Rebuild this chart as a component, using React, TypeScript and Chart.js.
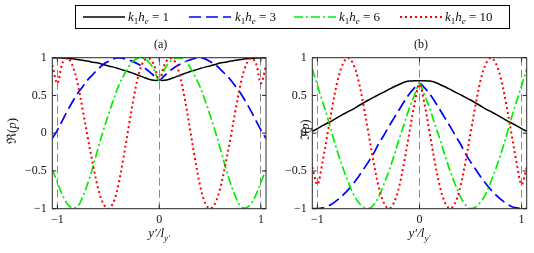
import React, { useEffect, useRef } from 'react';
import { Chart, registerables } from 'chart.js';

Chart.register(...registerables);

const FONT = '"Liberation Serif", "Times New Roman", Times, serif';

// positions along y'/l_y'
const X_POS = [-1.05, -1, -0.95, -0.9, -0.85, -0.8, -0.75, -0.7, -0.65, -0.6, -0.55, -0.5, -0.45, -0.4, -0.35, -0.3, -0.25, -0.2, -0.15, -0.1, -0.05, 0, 0.05, 0.1, 0.15, 0.2, 0.25, 0.3, 0.35, 0.4, 0.45, 0.5, 0.55, 0.6, 0.65, 0.7, 0.75, 0.8, 0.85, 0.9, 0.95, 1, 1.05];
const X_TICKS = [-1, 0, 1];
const Y_TICKS = [-1, -0.5, 0, 0.5, 1];
const KH_VALUES = ['1', '3', '6', '10'];

// (a) real part
const RE_KH1 = [1.0, 1.0, 0.995, 0.99, 0.985, 0.975, 0.965, 0.955, 0.94, 0.93, 0.91, 0.89, 0.875, 0.855, 0.835, 0.815, 0.79, 0.765, 0.74, 0.715, 0.70, 0.70, 0.70, 0.715, 0.74, 0.765, 0.79, 0.815, 0.835, 0.855, 0.875, 0.89, 0.91, 0.93, 0.94, 0.955, 0.965, 0.975, 0.985, 0.99, 0.995, 1.0, 1.0];
const RE_KH3 = [-0.07, 0.04, 0.17, 0.30, 0.42, 0.53, 0.62, 0.71, 0.78, 0.85, 0.91, 0.95, 0.985, 1.0, 0.99, 0.97, 0.945, 0.91, 0.87, 0.82, 0.76, 0.70, 0.76, 0.82, 0.87, 0.91, 0.945, 0.97, 0.99, 1.0, 0.985, 0.95, 0.91, 0.85, 0.78, 0.71, 0.62, 0.53, 0.42, 0.30, 0.17, 0.04, -0.07];
const RE_KH6 = [-0.48, -0.65, -0.82, -0.94, -0.99, -0.97, -0.84, -0.66, -0.44, -0.20, 0.03, 0.24, 0.44, 0.62, 0.76, 0.88, 0.96, 1.0, 0.99, 0.94, 0.84, 0.70, 0.84, 0.94, 0.99, 1.0, 0.96, 0.88, 0.76, 0.62, 0.44, 0.24, 0.03, -0.20, -0.44, -0.66, -0.84, -0.97, -0.99, -0.94, -0.82, -0.65, -0.48];
const RE_KH10 = [0.90, 0.66, 0.93, 0.995, 0.89, 0.65, 0.30, -0.07, -0.42, -0.73, -0.93, -1.0, -0.92, -0.68, -0.32, 0.08, 0.47, 0.78, 0.96, 0.99, 0.90, 0.70, 0.90, 0.99, 0.96, 0.78, 0.47, 0.08, -0.32, -0.68, -0.92, -1.0, -0.93, -0.73, -0.42, -0.07, 0.30, 0.65, 0.89, 0.995, 0.93, 0.66, 0.90];

// (b) imaginary part
const IM_KH1 = [0.025, 0.06, 0.10, 0.135, 0.17, 0.21, 0.25, 0.285, 0.32, 0.36, 0.40, 0.44, 0.475, 0.51, 0.545, 0.58, 0.615, 0.645, 0.675, 0.69, 0.695, 0.695, 0.695, 0.69, 0.675, 0.645, 0.615, 0.58, 0.545, 0.51, 0.475, 0.44, 0.40, 0.36, 0.32, 0.285, 0.25, 0.21, 0.17, 0.135, 0.10, 0.06, 0.025];
const IM_KH3 = [-1.0, -1.0, -0.99, -0.97, -0.93, -0.88, -0.82, -0.75, -0.67, -0.58, -0.48, -0.38, -0.27, -0.14, -0.03, 0.09, 0.20, 0.31, 0.42, 0.52, 0.60, 0.66, 0.60, 0.52, 0.42, 0.31, 0.20, 0.09, -0.03, -0.14, -0.27, -0.38, -0.48, -0.58, -0.67, -0.75, -0.82, -0.88, -0.93, -0.97, -0.99, -1.0, -1.0];
const IM_KH6 = [0.85, 0.63, 0.42, 0.20, -0.04, -0.26, -0.46, -0.64, -0.80, -0.91, -0.976, -1.0, -0.95, -0.84, -0.68, -0.50, -0.30, -0.08, 0.12, 0.33, 0.50, 0.66, 0.50, 0.33, 0.12, -0.08, -0.30, -0.50, -0.68, -0.84, -0.95, -1.0, -0.976, -0.91, -0.80, -0.64, -0.46, -0.26, -0.04, 0.20, 0.42, 0.63, 0.85];
const IM_KH10 = [-0.45, -0.68, -0.38, 0.0, 0.38, 0.71, 0.92, 1.0, 0.92, 0.71, 0.38, 0.0, -0.38, -0.71, -0.92, -1.0, -0.92, -0.71, -0.38, 0.0, 0.38, 0.65, 0.38, 0.0, -0.38, -0.71, -0.92, -1.0, -0.92, -0.71, -0.38, 0.0, 0.38, 0.71, 0.92, 1.0, 0.92, 0.71, 0.38, 0.0, -0.38, -0.68, -0.45];

const COLORS = ['#000000', '#0000ff', '#00ee00', '#ff0000'];
const DASHES: number[][] = [[], [12, 5], [9, 3, 2, 3], [2, 3]];
const WIDTHS = [1.5, 1.7, 1.7, 2];
const TENSIONS = [0.15, 0.35, 0.35, 0.35];

type Seg = { t: string; italic?: boolean; size?: number; dy?: number };

function fmt(v: number): string {
  return String(v).replace('-', '\u2212');
}

function segFont(s: Seg) {
  return `${s.italic ? 'italic ' : ''}${s.size ?? 13}px ${FONT}`;
}

function drawSegs(ctx: CanvasRenderingContext2D, segs: Seg[], cx: number, cy: number) {
  let total = 0;
  const widths = segs.map((s) => {
    ctx.font = segFont(s);
    const w = ctx.measureText(s.t).width;
    total += w;
    return w;
  });
  let x = cx - total / 2;
  ctx.textAlign = 'left';
  ctx.textBaseline = 'middle';
  segs.forEach((s, i) => {
    ctx.font = segFont(s);
    ctx.fillText(s.t, x, cy + (s.dy ?? 0));
    x += widths[i];
  });
}

const X_LABEL: Seg[] = [
  { t: 'y\u2032/l', italic: true, size: 13 },
  { t: 'y\u2032', italic: true, size: 9, dy: 5 },
];

function makeDeco(title: string, ySegs: Seg[], yLabelX: number, yLabelY: number) {
  return {
    id: 'deco',
    afterDatasetsDraw(chart: any) {
      const { ctx, chartArea: a, scales } = chart;
      ctx.save();
      ctx.setLineDash([]);
      ctx.strokeStyle = '#262626';
      ctx.lineWidth = 1;
      ctx.strokeRect(a.left, a.top, a.right - a.left, a.bottom - a.top);
      const tl = 4;
      ctx.beginPath();
      for (const v of Y_TICKS) {
        const y = scales.y.getPixelForValue(v);
        ctx.moveTo(a.left, y);
        ctx.lineTo(a.left + tl, y);
        ctx.moveTo(a.right, y);
        ctx.lineTo(a.right - tl, y);
      }
      for (const v of X_TICKS) {
        const x = scales.x.getPixelForValue(v);
        ctx.moveTo(x, a.bottom);
        ctx.lineTo(x, a.bottom - tl);
        ctx.moveTo(x, a.top);
        ctx.lineTo(x, a.top + tl);
      }
      ctx.stroke();
      ctx.restore();
    },
    afterDraw(chart: any) {
      const { ctx, chartArea: a } = chart;
      const cx = (a.left + a.right) / 2;
      ctx.save();
      ctx.fillStyle = '#111';
      drawSegs(ctx, [{ t: title, size: 12 }], cx + 1.5, 45);
      drawSegs(ctx, X_LABEL, cx, 234);
      ctx.translate(yLabelX, yLabelY);
      ctx.rotate(-Math.PI / 2);
      drawSegs(ctx, ySegs, 0, 0);
      ctx.restore();
    },
  };
}

type PanelProps = {
  left: number;
  width: number;
  axisLeft: number;
  padRight: number;
  series: number[][];
  title: string;
  ySegs: Seg[];
  yLabelX: number;
  yLabelY: number;
};

function Panel(p: PanelProps) {
  const ref = useRef<HTMLCanvasElement>(null);
  useEffect(() => {
    const tickFont = { family: FONT, size: 12 };
    const chart = new Chart(ref.current as HTMLCanvasElement, {
      type: 'line',
      data: {
        datasets: p.series.map((ys, i) => ({
          label: 'k1he = ' + KH_VALUES[i],
          data: X_POS.map((x, j) => ({ x, y: ys[j] })),
          borderColor: COLORS[i],
          backgroundColor: COLORS[i],
          borderDash: DASHES[i],
          borderWidth: WIDTHS[i],
          pointRadius: 0,
          tension: TENSIONS[i],
          fill: false,
          order: 4 - i,
        })),
      },
      options: {
        responsive: false,
        animation: false,
        layout: { padding: { top: 57.7, right: p.padRight, left: 0, bottom: 0 } },
        plugins: {
          legend: { display: false },
          tooltip: { enabled: false },
          title: { display: false },
        },
        scales: {
          x: {
            type: 'linear',
            min: -1.05,
            max: 1.05,
            afterBuildTicks: (s: any) => {
              s.ticks = X_TICKS.map((v) => ({ value: v }));
            },
            afterFit: (s: any) => {
              s.height = 44.3;
            },
            grid: { display: true, drawTicks: false, color: '#8a8a8a', lineWidth: 1 },
            border: { display: false, dash: [8, 4] },
            ticks: {
              padding: 4,
              font: tickFont,
              color: '#111',
              maxRotation: 0,
              autoSkip: false,
              callback: (v: any) => fmt(Number(v)),
            },
          },
          y: {
            type: 'linear',
            min: -1,
            max: 1,
            afterBuildTicks: (s: any) => {
              s.ticks = Y_TICKS.map((v) => ({ value: v }));
            },
            afterFit: (s: any) => {
              s.width = p.axisLeft;
            },
            grid: { display: false, drawTicks: false },
            border: { display: false },
            ticks: {
              padding: 5.5,
              font: tickFont,
              color: '#111',
              callback: (v: any) => fmt(Number(v)),
            },
          },
        },
      },
      plugins: [makeDeco(p.title, p.ySegs, p.yLabelX, p.yLabelY)],
    } as any);
    return () => chart.destroy();
  }, []);
  return (
    <canvas
      ref={ref}
      width={p.width}
      height={253}
      style={{ position: 'absolute', left: p.left, top: 0, width: p.width, height: 253 }}
    />
  );
}

const LEGEND_LINE_X = [83, 189, 294, 400];
const LEGEND_TEXT_X = [128, 235, 339, 445];

function Legend() {
  const sub: React.CSSProperties = { fontSize: 9, verticalAlign: '-3px', lineHeight: 0 };
  return (
    <>
      <div
        style={{
          position: 'absolute',
          left: 75,
          top: 5,
          width: 435,
          height: 24,
          boxSizing: 'border-box',
          border: '1px solid #000',
        }}
      />
      {KH_VALUES.map((v, i) => (
        <React.Fragment key={v}>
          <svg width={42} height={4} style={{ position: 'absolute', left: LEGEND_LINE_X[i], top: 15 }}>
            <line
              x1={0}
              y1={2}
              x2={42}
              y2={2}
              stroke={COLORS[i]}
              strokeWidth={WIDTHS[i]}
              strokeDasharray={DASHES[i].length ? DASHES[i].join(' ') : undefined}
            />
          </svg>
          <span
            style={{
              position: 'absolute',
              left: LEGEND_TEXT_X[i],
              top: 8,
              fontFamily: FONT,
              fontSize: 13,
              lineHeight: '18px',
              whiteSpace: 'nowrap',
              color: '#111',
            }}
          >
            <i>k</i>
            <sub style={sub}>1</sub>
            <i>h</i>
            <sub style={sub}>
              <i>e</i>
            </sub>
            {' = ' + v}
          </span>
        </React.Fragment>
      ))}
    </>
  );
}

export default function App() {
  return (
    <div
      style={{
        position: 'absolute',
        left: 0,
        top: 0,
        width: 534,
        height: 253,
        background: '#fff',
        overflow: 'hidden',
      }}
    >
      <Panel
        left={0}
        width={270}
        axisLeft={52.3}
        padRight={4}
        series={[RE_KH1, RE_KH3, RE_KH6, RE_KH10]}
        title="(a)"
        ySegs={[{ t: '\u211C(' }, { t: 'p', italic: true }, { t: ')' }]}
        yLabelX={13}
        yLabelY={131}
      />
      <Panel
        left={270}
        width={264}
        axisLeft={42.3}
        padRight={7.3}
        series={[IM_KH1, IM_KH3, IM_KH6, IM_KH10]}
        title="(b)"
        ySegs={[{ t: '\u2111(', size: 12 }, { t: 'p', italic: true, size: 12 }, { t: ')', size: 12 }]}
        yLabelX={35.5}
        yLabelY={130}
      />
      <Legend />
    </div>
  );
}
